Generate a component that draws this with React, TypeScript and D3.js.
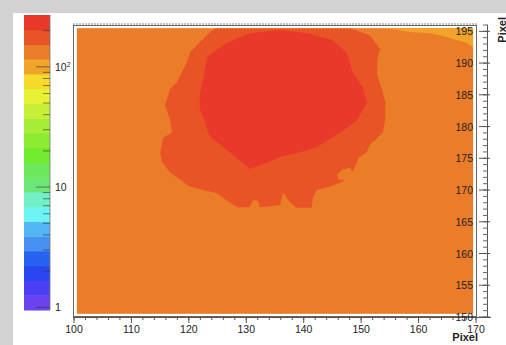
import React from 'react';
import * as d3 from 'd3';

// palette colours, lowest contour level first (20 levels, log z)
const paletteColors = [
  '#6a42f0', '#4c40f2', '#2a46f2', '#2862f0', '#4890f2',
  '#52b6f4', '#6cf4f4', '#72f0c8', '#6ee676', '#6ce85a',
  '#72ea2e', '#8cec32', '#a8ee36', '#c8f036', '#e6f232',
  '#f6dc2a', '#f0a42a', '#ec7d28', '#e95426', '#e8392a'
];
const zRange = [0.95, 270];
const zTickMajor = [1, 10, 100];
const zTickMinor = [2, 3, 4, 5, 6, 7, 8, 9, 20, 30, 40, 50, 60, 70, 80, 90, 200];

const xDomain = [100, 170];
const yDomain = [150, 196];
const xTicks = [100, 110, 120, 130, 140, 150, 160, 170];
const yTicks = [150, 155, 160, 165, 170, 175, 180, 185, 190, 195];

// filled area spans bin centres
const fillExtent = [[100.5, 150.5], [169.5, 195.5]];
const backgroundZ = 130;

// contour regions, in Pixel units
const cornerZ = 100;
const cornerRegion: [number, number][] = [
  [154.5, 195.5], [158.5, 194.9], [162.0, 194.7], [164.9, 194.1], [166.7, 193.6],
  [168.4, 193.2], [169.5, 192.5], [169.5, 195.5]
];

const ringZ = 180;
const ringRegion: [number, number][] = [
  [124.6, 195.5], [123.7, 194.9], [121.9, 193.3], [120.2, 191.7], [119.7, 190.2],
  [118.8, 188.6], [117.9, 187.0], [116.7, 185.9], [116.2, 184.3], [115.8, 183.4],
  [116.7, 181.2], [117.1, 179.1], [115.5, 178.2], [115.0, 176.0], [115.3, 174.4],
  [116.7, 172.8], [119.0, 171.3], [120.2, 170.5], [124.9, 169.5], [126.6, 168.4],
  [128.4, 167.3], [130.6, 167.3], [131.2, 168.4], [132.0, 168.4], [132.4, 167.3],
  [135.9, 167.6], [136.4, 169.7], [137.3, 168.4], [138.7, 167.2], [141.4, 167.2],
  [141.6, 168.7], [142.3, 170.0], [144.6, 170.5], [146.7, 171.3], [148.1, 172.4],
  [148.9, 173.5], [149.5, 175.0], [151.0, 176.0], [151.5, 177.1], [152.8, 178.2],
  [153.8, 179.1], [154.2, 181.2], [154.2, 183.9], [153.6, 185.9], [152.8, 188.1],
  [152.8, 190.6], [153.3, 192.2], [151.5, 194.4], [148.1, 195.5]
];

const coreZ = 240;
const coreRegion: [number, number][] = [
  [123.2, 191.0], [126.6, 193.2], [130.6, 194.7], [135.9, 195.2], [140.6, 194.7],
  [145.1, 193.6], [147.5, 191.6], [148.6, 188.4], [150.3, 186.2], [151.0, 183.7],
  [149.3, 181.0], [146.3, 179.0], [142.3, 176.8], [138.8, 175.8], [135.9, 175.2],
  [133.6, 174.3], [130.6, 173.3], [128.4, 175.0], [124.0, 178.2], [123.3, 179.1],
  [122.8, 180.7], [121.9, 182.8], [121.9, 185.0], [122.5, 187.5]
];

const pocketZ = 130;
const pocketRegion: [number, number][] = [
  [145.8, 172.4], [146.7, 173.2], [148.1, 173.5], [148.6, 172.7], [149.5, 172.5],
  [148.4, 172.1], [147.2, 171.6], [146.0, 171.7]
];

const FONT = '"Liberation Sans", Arial, sans-serif';

export default function App() {
  const x = d3.scaleLinear().domain(xDomain).range([74, 476]);
  const y = d3.scaleLinear().domain(yDomain).range([317, 25]);
  const z = d3.scaleLog().domain(zRange).range([310, 15]);

  const nLev = paletteColors.length;
  const logMin = Math.log10(zRange[0]);
  const logMax = Math.log10(zRange[1]);
  const levelEdges = d3.range(nLev + 1).map(i => Math.pow(10, logMin + (logMax - logMin) * i / nLev));
  const colorOf = (v: number) => {
    const i = d3.bisectRight(levelEdges, v) - 1;
    return paletteColors[Math.max(0, Math.min(nLev - 1, i))];
  };

  const line = d3.line<[number, number]>().x(d => x(d[0])).y(d => y(d[1]));
  const area = (pts: [number, number][]) => line(pts) + 'Z';

  const regions = [
    { pts: cornerRegion, z: cornerZ },
    { pts: ringRegion, z: ringZ },
    { pts: coreRegion, z: coreZ },
    { pts: pocketRegion, z: pocketZ }
  ];

  const fx0 = x(fillExtent[0][0]);
  const fx1 = x(fillExtent[1][0]);
  const fy0 = y(fillExtent[1][1]);
  const fy1 = y(fillExtent[0][1]);

  const xMinor = d3.range(xDomain[0], xDomain[1] + 0.01, 2);
  const yMinor = d3.range(yDomain[0], yDomain[1] + 0.01, 1);

  return (
    <svg width={506} height={345} style={{ position: 'absolute', left: 0, top: 0 }}
      fontFamily={FONT}>
      <rect width={506} height={345} fill="#d2d2d2" />
      <rect x={13} y={13} width={493} height={332} fill="#ffffff" />

      {/* palette */}
      {paletteColors.map((c, i) => (
        <rect key={'p' + i} x={24} width={26}
          y={z(levelEdges[i + 1])} height={z(levelEdges[i]) - z(levelEdges[i + 1]) + 0.5}
          fill={c} />
      ))}
      <line x1={50} x2={50} y1={15} y2={310} stroke="#777" strokeWidth={0.8} />
      {zTickMinor.map(t => (
        <line key={'zm' + t} x1={43} x2={50} y1={z(t)} y2={z(t)} stroke="#333" strokeOpacity={0.6} strokeWidth={1} />
      ))}
      {zTickMajor.map(t => (
        <line key={'zM' + t} x1={36} x2={50} y1={z(t)} y2={z(t)} stroke="#333" strokeOpacity={0.6} strokeWidth={1} />
      ))}
      <text x={55} y={z(100) + 4} fontSize={10.5} fill="#222">10<tspan dy={-4} fontSize={7}>2</tspan></text>
      <text x={55} y={z(10) + 4} fontSize={10.5} fill="#222">10</text>
      <text x={55} y={z(1) + 4} fontSize={10.5} fill="#222">1</text>

      {/* contour fill */}
      <defs>
        <clipPath id="fillClip">
          <rect x={fx0} y={fy0} width={fx1 - fx0} height={fy1 - fy0} />
        </clipPath>
      </defs>
      <rect x={fx0} y={fy0} width={fx1 - fx0} height={fy1 - fy0} fill={colorOf(backgroundZ)} />
      <g clipPath="url(#fillClip)">
        {regions.map((r, i) => (
          <path key={'r' + i} d={area(r.pts)} fill={colorOf(r.z)} />
        ))}
      </g>

      {/* frame */}
      <line x1={73} x2={477} y1={24} y2={24} stroke="#888" strokeWidth={1} strokeDasharray="2,1" />
      <rect x={73.5} y={25.5} width={403} height={291} fill="none" stroke="#666" strokeWidth={1} />

      {/* x axis */}
      <line x1={73} x2={491} y1={317.5} y2={317.5} stroke="#555" strokeWidth={1} />
      {xMinor.map(t => (
        <line key={'xm' + t} x1={x(t)} x2={x(t)} y1={317} y2={320} stroke="#555" strokeWidth={1} />
      ))}
      {xTicks.map(t => (
        <g key={'xt' + t}>
          <line x1={x(t)} x2={x(t)} y1={317} y2={323} stroke="#555" strokeWidth={1} />
          <text x={x(t)} y={333} textAnchor="middle" fontSize={10.5} fill="#222">{t}</text>
        </g>
      ))}
      <text x={478} y={341} textAnchor="end" fontSize={11} fontWeight="bold" fill="#222">Pixel</text>

      {/* y axis on the right */}
      <line x1={487.5} x2={487.5} y1={25} y2={317} stroke="#555" strokeWidth={1} />
      {yMinor.map(t => (
        <line key={'ym' + t} x1={483} x2={488} y1={y(t)} y2={y(t)} stroke="#666" strokeWidth={1} />
      ))}
      {yTicks.map(t => (
        <g key={'yt' + t}>
          <line x1={479} x2={490} y1={y(t)} y2={y(t)} stroke="#555" strokeWidth={1} />
          <text x={473} y={y(t) + 4} textAnchor="end" fontSize={10.5} fill="#222">{t}</text>
        </g>
      ))}
      <text transform="translate(506,17) rotate(-90)" textAnchor="end" fontSize={11}
        fontWeight="bold" fill="#222">Pixel</text>
    </svg>
  );
}
